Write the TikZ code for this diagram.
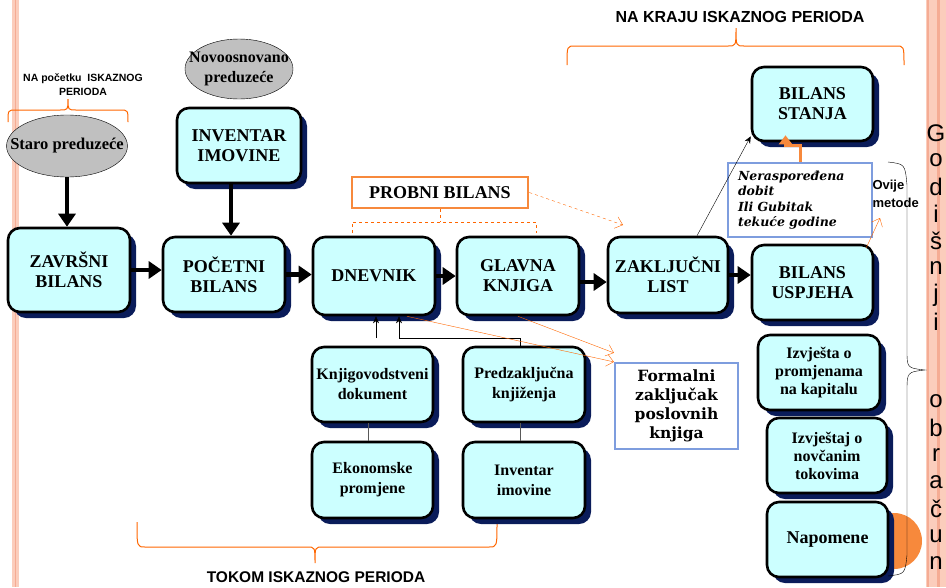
\documentclass[tikz,border=0pt]{standalone}
\usepackage{fontspec}
\setmainfont{Liberation Serif}
\setsansfont{Liberation Sans}
\newfontfamily\schoolFont{DejaVu Serif}
\usetikzlibrary{positioning,shapes.geometric,arrows.meta,shadows}
\definecolor{boxFill}{RGB}{204,255,255}
\definecolor{shadowColor}{RGB}{10,28,90}
\definecolor{braceOrange}{RGB}{255,102,0}
\definecolor{lightOrange}{RGB}{247,137,60}
\definecolor{frameBlue}{RGB}{126,157,222}
\definecolor{stripeColor}{RGB}{251,205,188}
\definecolor{stripeDark}{RGB}{245,172,148}
\definecolor{ellipseGray}{RGB}{192,192,192}
\newcommand{\boxFont}{\fontsize{18}{20}\selectfont\bfseries}
\newcommand{\smallFont}{\fontsize{16}{20}\selectfont\bfseries}
\newcommand{\sideFont}{\fontsize{16}{18}\selectfont\bfseries}
\tikzstyle{stepBox} = [draw=black, line width=2.6pt, fill=boxFill, rounded corners=12pt, align=center, inner sep=2pt,
  drop shadow={shadow xshift=6pt, shadow yshift=-6pt, fill=shadowColor, opacity=1}]
\tikzstyle{bigBox} = [stepBox, minimum width=122pt, minimum height=76pt, font=\boxFont]
\tikzstyle{smallBox} = [stepBox, minimum width=121pt, minimum height=75pt, font=\smallFont]
\tikzstyle{sideBox} = [stepBox, minimum width=121pt, minimum height=75pt, font=\sideFont]
\tikzstyle{ellipseNode} = [ellipse, draw=black, thin, fill=ellipseGray, inner xsep=-14pt, inner ysep=0pt, align=center, font=\fontsize{16.5}{20}\selectfont\bfseries]
\tikzstyle{frameBox} = [draw=frameBlue, line width=2.2pt, fill=white, align=center]
\tikzstyle{flowArrow} = [line width=4.5pt, -{Triangle[length=13pt, width=17pt]}]
\tikzstyle{thinArrow} = [thin, -{Stealth[length=7pt, width=6pt]}]
\tikzstyle{orangeArrow} = [braceOrange, thin, -{Straight Barb[length=7pt, width=12pt]}]
\tikzstyle{orangeBraceLine} = [braceOrange, line width=1pt]
\tikzstyle{periodText} = [font=\sffamily\bfseries, align=center]
\tikzstyle{yearLetter} = [font=\fontsize{24}{24}\selectfont\sffamily]
\newcommand{\curlyBrace}[6]{\draw [orangeBraceLine] (#1,#4) .. controls (#1,#5) .. ({#1+8},#5) -- ({#3-8},#5) .. controls (#3,#5) .. (#3,#6) .. controls (#3,#5) .. ({#3+8},#5) -- ({#2-8},#5) .. controls (#2,#5) .. (#2,#4);}

\begin{document}
\begin{tikzpicture}[x=1pt, y=-1pt]
  \useasboundingbox (0,0) rectangle (946,587);
  % side stripes
  \fill [stripeColor] (12,0) rectangle (19,587);
  \draw [stripeDark, line width=1.5pt] (15.5,0) -- (15.5,587);
  \fill [stripeColor] (926,0) rectangle (946,587);
  \draw [stripeDark, line width=2.5pt] (928,0) -- (928,587);
  \draw [stripeDark, line width=2.5pt] (938.5,0) -- (938.5,587);
  \fill [lightOrange] (894,541) circle (28);

  % period labels
  \node [periodText, font=\fontsize{10.5}{14}\selectfont\sffamily\bfseries] (pocetak) at (83,85) {NA početku\ \ ISKAZNOG\\PERIODA};
  \curlyBrace{8}{128}{68}{122}{110}{99}
  \node [periodText, font=\fontsize{16}{18}\selectfont\sffamily\bfseries] (kraj) at (740,17) {NA KRAJU ISKAZNOG\ PERIODA};
  \curlyBrace{567}{904}{736}{65}{46}{28}
  \node [periodText, font=\fontsize{15.5}{18}\selectfont\sffamily\bfseries] (tokom) at (316,577) {TOKOM ISKAZNOG\ PERIODA};
  \curlyBrace{137}{497}{315}{522}{547}{563}

  % boxes
  \node [ellipseNode, minimum width=120pt, minimum height=62pt] (staro) at (67,146) {Staro preduzeće};
  \node [ellipseNode, minimum width=108pt, minimum height=60pt, font=\fontsize{16}{20}\selectfont\bfseries] (novo) at (239,69) {Novoosnovano\\preduzeće};
  \node [bigBox, minimum width=124pt, minimum height=75pt] (inventar) at (239,145.5) {INVENTAR\\IMOVINE};
  \node [bigBox, minimum height=84pt] (zavrsni) at (69,270) {ZAVRŠNI\\BILANS};
  \node [bigBox, minimum height=75pt] (pocetni) at (224,274.5) {POČETNI\\BILANS};
  \node [bigBox, minimum height=78pt] (dnevnik) at (374,276) {DNEVNIK};
  \node [bigBox, minimum height=78pt] (glavna) at (518,276) {GLAVNA\\KNJIGA};
  \node [bigBox, minimum width=120pt] (zakljucni) at (668,275) {ZAKLJUČNI\\LIST};
  \node [bigBox, minimum width=121pt, minimum height=75pt] (uspjeha) at (812.5,282.5) {BILANS\\USPJEHA};
  \node [bigBox, minimum width=121pt, minimum height=74pt] (stanja) at (812.5,104) {BILANS\\STANJA};
  \node [smallBox] (knjigovodstveni) at (372.5,384.5) {Knjigovodstveni\\dokument};
  \node [smallBox, minimum width=122pt] (predzakljucna) at (524,384.5) {Predzaključna\\knjiženja};
  \node [smallBox, minimum height=76pt] (ekonomske) at (372.5,480) {Ekonomske\\promjene};
  \node [smallBox, minimum width=122pt, minimum height=76pt] (imovina) at (524,480) {Inventar\\imovine};
  \node [sideBox, minimum width=122pt] (kapital) at (819,372.5) {Izvješta o\\promjenama\\na kapitalu};
  \node [sideBox, minimum width=120pt] (tokovi) at (827,455.5) {Izvještaj o\\novčanim\\tokovima};
  \node [stepBox, minimum width=121pt, minimum height=75pt, font=\fontsize{18}{20}\selectfont\bfseries] (napomene) at (827.5,539.5) {Napomene};

  % right brace and yearly text
  \draw [thin] (888,162) .. controls (905,164) .. (907,185) -- (907,350) .. controls (907,368) .. (925,370)
    .. controls (907,372) .. (907,392) -- (907,555) .. controls (905,574) .. (888,576);
  \foreach \letter [count=\i from 0] in {G,o,d,i,š,n,j,i}
    \node [yearLetter] at (936,{133+27*\i}) {\letter};
  \foreach \letter [count=\i from 0] in {o,b,r,a,č,u,n}
    \node [yearLetter] at (936,{401+27*\i}) {\letter};

  \node [anchor=west, align=left, font=\fontsize{13}{18}\selectfont\sffamily\bfseries] (metode) at (869,194) {Ovije\\metode};
  \node [frameBox, minimum width=144pt, minimum height=74pt, text width=124pt, align=left,
    font=\fontsize{12.5}{15.5}\selectfont\schoolFont\bfseries\itshape] (neraspo) at (800,200)
    {Neraspoređena\\dobit\\Ili Gubitak\\tekuće godine};
  \node [frameBox, minimum width=123pt, minimum height=86pt, font=\fontsize{15.5}{19}\selectfont\schoolFont\bfseries] (formalni) at (676.5,406)
    {Formalni\\zaključak\\poslovnih\\knjiga};
  \node [draw=lightOrange, line width=2.5pt, fill=white, minimum width=176pt, minimum height=31pt,
    font=\fontsize{18}{20}\selectfont\bfseries] (probni) at (440,192.5) {PROBNI BILANS};

  % main flow
  \draw [flowArrow] (staro.south) -- (staro.south |- zavrsni.north);
  \draw [flowArrow] ([xshift=-8pt]inventar.south) -- ([xshift=-8pt]inventar.south |- pocetni.north);
  \draw [flowArrow] (zavrsni.east) -- (zavrsni.east -| pocetni.west);
  \draw [flowArrow] (pocetni.east) -- (pocetni.east -| dnevnik.west);
  \draw [flowArrow] (dnevnik.east) -- (dnevnik.east -| glavna.west);
  \draw [flowArrow] ([yshift=-6pt]glavna.east) -- ([yshift=-6pt]glavna.east -| zakljucni.west);
  \draw [flowArrow] (zakljucni.east) -- (zakljucni.east -| uspjeha.west);

  % thin connectors
  \draw [thinArrow] ([xshift=29pt]zakljucni.north) -- ([yshift=6pt]stanja.south west);
  \coordinate (docTip) at (376,338);
  \coordinate (elbow) at (399,338);
  \draw [thinArrow] (docTip) -- (docTip |- dnevnik.south);
  \draw [thinArrow] ([xshift=-4pt]predzakljucna.north) |- (elbow) -- (elbow |- dnevnik.south);
  \draw [gray!70!black, line width=1pt] ([xshift=-4pt]knjigovodstveni.south) -- ([xshift=-4pt]knjigovodstveni.south |- ekonomske.north);
  \draw [gray!70!black, line width=1pt] ([xshift=-4pt]predzakljucna.south) -- ([xshift=-4pt]predzakljucna.south |- imovina.north);

  % orange connectors
  \draw [orangeArrow] ([xshift=33pt]dnevnik.south) -- (formalni.north west);
  \draw [orangeArrow] (glavna.south) -- ([yshift=9pt]formalni.north west);
  \coordinate (probniTip) at (623,225);
  \draw [orangeArrow, dashed] (probni.east) -- (probniTip);
  \draw [braceOrange, dashed, line width=1pt] (352,233) -- (352,222) -- (536,222) -- (536,233);
  \draw [braceOrange, dashed, line width=1pt] (probni.south) -- (probni.south |- 0,222);
  \coordinate (metodeTip) at (880,218);
  \draw [orangeArrow] ([xshift=-8pt, yshift=-4pt]uspjeha.north east) -- (metodeTip);
  \draw [lightOrange, line width=3pt, -{Triangle[length=9pt, width=13pt]}] (neraspo.north) -- ++(0,-16)
    -| ([xshift=-27pt, yshift=7pt]stanja.south);
\end{tikzpicture}
\end{document}
